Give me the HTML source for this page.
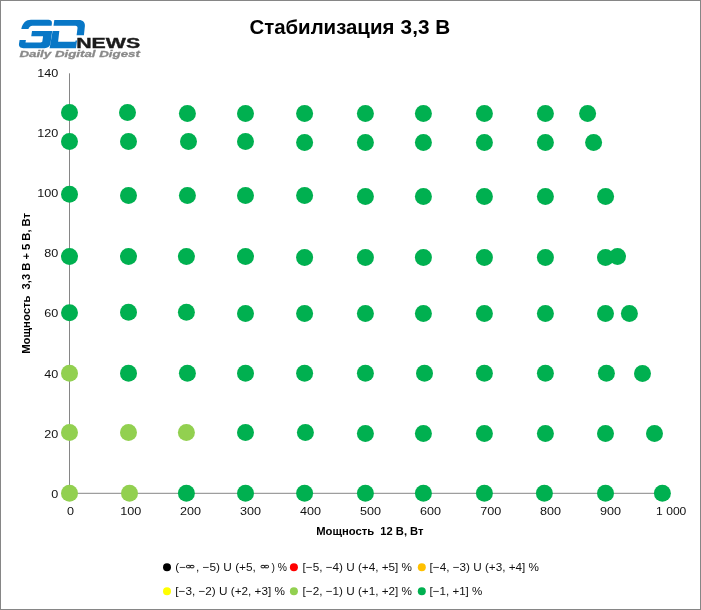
<!DOCTYPE html>
<html><head><meta charset="utf-8"><style>
html,body{margin:0;padding:0;background:#fff;}
svg{display:block;will-change:transform;font-family:"Liberation Sans",sans-serif;}
</style></head><body>
<svg width="701" height="610" viewBox="0 0 701 610">
<rect x="0.5" y="0.5" width="700" height="609" fill="#fff" stroke="#868686" stroke-width="1"/>

<g fill="#0877C6">
<path d="M21.3,28.9 C22.6,23 26,19.8 31,19.8 L48.3,19.8 C50.9,19.8 52.2,21.2 51.9,23.4 L51.6,25.7 L32.4,25.7 C30.4,25.7 29,27 28.4,28.9 Z"/>
<path d="M32,31.1 L52.2,31.1 L50.5,43.6 C50.0,46.6 47.6,48.2 44.6,48.2 L23.5,48.2 C20.3,48.2 18.6,46.5 19,43.8 L19.6,40 L25.9,40 L25.5,42.5 L40.6,42.5 C41.8,42.5 42.3,42.1 42.4,41.1 L43.1,36.25 L31.25,36.25 Z"/>
<path d="M54.3,19.9 L78.6,19.9 C83.2,19.9 85.3,22.5 84.9,26 L83.9,35.2 L76.6,35.2 L77.5,28.3 C77.7,26.8 77,25.8 75.4,25.8 L53.5,25.8 Z"/>
<path d="M52.6,31.1 L59.3,31.1 L58.1,41.8 L75.4,41.8 L75.6,40.5 L77.0,40.5 L76.0,48.2 L49.6,48.2 Z"/>
</g>
<text x="76.2" y="47.8" font-size="13.8" font-weight="bold" fill="#1b1b1b" stroke="#1b1b1b" stroke-width="0.35" textLength="64" lengthAdjust="spacingAndGlyphs">NEWS</text>
<text x="19.4" y="57.4" font-size="9.6" font-weight="bold" font-style="italic" fill="#8a8a8a" stroke="#8a8a8a" stroke-width="0.3" textLength="120.5" lengthAdjust="spacingAndGlyphs">Daily Digital Digest</text>

<g font-size="20.4" font-weight="bold" fill="#000">
<text x="249.4" y="33.5" textLength="145" lengthAdjust="spacingAndGlyphs">Стабилизация</text>
<text x="400.6" y="33.5" textLength="49.6" lengthAdjust="spacingAndGlyphs">3,3 В</text>
</g>
<line x1="69.5" y1="73.3" x2="69.5" y2="493.3" stroke="#868686" stroke-width="1"/>
<line x1="69.5" y1="493.3" x2="670" y2="493.3" stroke="#868686" stroke-width="1"/>
<g font-size="11.5" fill="#111">
<text x="58.3" y="498.0" text-anchor="end" textLength="7.0" lengthAdjust="spacingAndGlyphs">0</text>
<text x="58.3" y="438.0" text-anchor="end" textLength="14.0" lengthAdjust="spacingAndGlyphs">20</text>
<text x="58.3" y="378.0" text-anchor="end" textLength="14.0" lengthAdjust="spacingAndGlyphs">40</text>
<text x="58.3" y="317.0" text-anchor="end" textLength="14.0" lengthAdjust="spacingAndGlyphs">60</text>
<text x="58.3" y="257.0" text-anchor="end" textLength="14.0" lengthAdjust="spacingAndGlyphs">80</text>
<text x="58.3" y="197.0" text-anchor="end" textLength="21.0" lengthAdjust="spacingAndGlyphs">100</text>
<text x="58.3" y="137.0" text-anchor="end" textLength="21.0" lengthAdjust="spacingAndGlyphs">120</text>
<text x="58.3" y="77.0" text-anchor="end" textLength="21.0" lengthAdjust="spacingAndGlyphs">140</text>
<text x="70.5" y="514.9" text-anchor="middle" textLength="7.0" lengthAdjust="spacingAndGlyphs">0</text>
<text x="130.7" y="514.9" text-anchor="middle" textLength="21.0" lengthAdjust="spacingAndGlyphs">100</text>
<text x="190.5" y="514.9" text-anchor="middle" textLength="21.0" lengthAdjust="spacingAndGlyphs">200</text>
<text x="250.6" y="514.9" text-anchor="middle" textLength="21.0" lengthAdjust="spacingAndGlyphs">300</text>
<text x="310.5" y="514.9" text-anchor="middle" textLength="21.0" lengthAdjust="spacingAndGlyphs">400</text>
<text x="370.6" y="514.9" text-anchor="middle" textLength="21.0" lengthAdjust="spacingAndGlyphs">500</text>
<text x="430.6" y="514.9" text-anchor="middle" textLength="21.0" lengthAdjust="spacingAndGlyphs">600</text>
<text x="490.7" y="514.9" text-anchor="middle" textLength="21.0" lengthAdjust="spacingAndGlyphs">700</text>
<text x="550.6" y="514.9" text-anchor="middle" textLength="21.0" lengthAdjust="spacingAndGlyphs">800</text>
<text x="610.4" y="514.9" text-anchor="middle" textLength="21.0" lengthAdjust="spacingAndGlyphs">900</text>
<text x="671.2" y="514.9" text-anchor="middle" textLength="30.3" lengthAdjust="spacingAndGlyphs">1 000</text>
</g>
<g font-size="11" font-weight="bold" fill="#000">
<text x="316.2" y="535" textLength="58" lengthAdjust="spacingAndGlyphs">Мощность</text>
<text x="380.3" y="535" textLength="43.2" lengthAdjust="spacingAndGlyphs">12 В, Вт</text>
</g>
<g transform="translate(30,0) rotate(-90)" font-size="11" font-weight="bold" fill="#000">
<text x="-353.8" y="0" textLength="58.2" lengthAdjust="spacingAndGlyphs">Мощность</text>
<text x="-289.4" y="0" textLength="76.4" lengthAdjust="spacingAndGlyphs">3,3 В + 5 В, Вт</text>
</g>
<circle cx="69.5" cy="112.5" r="8.5" fill="#00B050"/>
<circle cx="127.5" cy="112.5" r="8.5" fill="#00B050"/>
<circle cx="187.4" cy="113.6" r="8.5" fill="#00B050"/>
<circle cx="245.5" cy="113.6" r="8.5" fill="#00B050"/>
<circle cx="304.6" cy="113.6" r="8.5" fill="#00B050"/>
<circle cx="365.4" cy="113.6" r="8.5" fill="#00B050"/>
<circle cx="423.4" cy="113.6" r="8.5" fill="#00B050"/>
<circle cx="484.4" cy="113.6" r="8.5" fill="#00B050"/>
<circle cx="545.4" cy="113.6" r="8.5" fill="#00B050"/>
<circle cx="587.6" cy="113.6" r="8.5" fill="#00B050"/>
<circle cx="69.5" cy="141.4" r="8.5" fill="#00B050"/>
<circle cx="128.5" cy="141.4" r="8.5" fill="#00B050"/>
<circle cx="188.5" cy="141.4" r="8.5" fill="#00B050"/>
<circle cx="245.5" cy="141.4" r="8.5" fill="#00B050"/>
<circle cx="304.6" cy="142.6" r="8.5" fill="#00B050"/>
<circle cx="365.4" cy="142.6" r="8.5" fill="#00B050"/>
<circle cx="423.4" cy="142.6" r="8.5" fill="#00B050"/>
<circle cx="484.4" cy="142.6" r="8.5" fill="#00B050"/>
<circle cx="545.4" cy="142.6" r="8.5" fill="#00B050"/>
<circle cx="593.6" cy="142.6" r="8.5" fill="#00B050"/>
<circle cx="69.5" cy="194.3" r="8.5" fill="#00B050"/>
<circle cx="128.5" cy="195.4" r="8.5" fill="#00B050"/>
<circle cx="187.4" cy="195.4" r="8.5" fill="#00B050"/>
<circle cx="245.5" cy="195.4" r="8.5" fill="#00B050"/>
<circle cx="304.6" cy="195.4" r="8.5" fill="#00B050"/>
<circle cx="365.4" cy="196.4" r="8.5" fill="#00B050"/>
<circle cx="423.4" cy="196.4" r="8.5" fill="#00B050"/>
<circle cx="484.4" cy="196.4" r="8.5" fill="#00B050"/>
<circle cx="545.4" cy="196.4" r="8.5" fill="#00B050"/>
<circle cx="605.6" cy="196.4" r="8.5" fill="#00B050"/>
<circle cx="69.5" cy="256.5" r="8.5" fill="#00B050"/>
<circle cx="128.5" cy="256.5" r="8.5" fill="#00B050"/>
<circle cx="186.4" cy="256.5" r="8.5" fill="#00B050"/>
<circle cx="245.5" cy="256.5" r="8.5" fill="#00B050"/>
<circle cx="304.6" cy="257.6" r="8.5" fill="#00B050"/>
<circle cx="365.4" cy="257.5" r="8.5" fill="#00B050"/>
<circle cx="423.4" cy="257.5" r="8.5" fill="#00B050"/>
<circle cx="484.4" cy="257.5" r="8.5" fill="#00B050"/>
<circle cx="545.4" cy="257.5" r="8.5" fill="#00B050"/>
<circle cx="605.5" cy="257.5" r="8.5" fill="#00B050"/>
<circle cx="617.5" cy="256.5" r="8.5" fill="#00B050"/>
<circle cx="69.5" cy="312.8" r="8.5" fill="#00B050"/>
<circle cx="128.5" cy="312.3" r="8.5" fill="#00B050"/>
<circle cx="186.4" cy="312.3" r="8.5" fill="#00B050"/>
<circle cx="245.5" cy="313.4" r="8.5" fill="#00B050"/>
<circle cx="304.6" cy="313.4" r="8.5" fill="#00B050"/>
<circle cx="365.4" cy="313.4" r="8.5" fill="#00B050"/>
<circle cx="423.4" cy="313.4" r="8.5" fill="#00B050"/>
<circle cx="484.4" cy="313.4" r="8.5" fill="#00B050"/>
<circle cx="545.4" cy="313.4" r="8.5" fill="#00B050"/>
<circle cx="605.5" cy="313.4" r="8.5" fill="#00B050"/>
<circle cx="629.4" cy="313.5" r="8.5" fill="#00B050"/>
<circle cx="69.5" cy="373.3" r="8.5" fill="#92D050"/>
<circle cx="128.5" cy="373.3" r="8.5" fill="#00B050"/>
<circle cx="187.4" cy="373.3" r="8.5" fill="#00B050"/>
<circle cx="245.5" cy="373.3" r="8.5" fill="#00B050"/>
<circle cx="304.6" cy="373.3" r="8.5" fill="#00B050"/>
<circle cx="365.4" cy="373.3" r="8.5" fill="#00B050"/>
<circle cx="424.5" cy="373.3" r="8.5" fill="#00B050"/>
<circle cx="484.4" cy="373.3" r="8.5" fill="#00B050"/>
<circle cx="545.4" cy="373.3" r="8.5" fill="#00B050"/>
<circle cx="606.4" cy="373.3" r="8.5" fill="#00B050"/>
<circle cx="642.5" cy="373.5" r="8.5" fill="#00B050"/>
<circle cx="69.5" cy="432.6" r="8.5" fill="#92D050"/>
<circle cx="128.5" cy="432.6" r="8.5" fill="#92D050"/>
<circle cx="186.4" cy="432.6" r="8.5" fill="#92D050"/>
<circle cx="245.5" cy="432.4" r="8.5" fill="#00B050"/>
<circle cx="305.4" cy="432.4" r="8.5" fill="#00B050"/>
<circle cx="365.4" cy="433.4" r="8.5" fill="#00B050"/>
<circle cx="423.4" cy="433.4" r="8.5" fill="#00B050"/>
<circle cx="484.4" cy="433.4" r="8.5" fill="#00B050"/>
<circle cx="545.4" cy="433.4" r="8.5" fill="#00B050"/>
<circle cx="605.5" cy="433.4" r="8.5" fill="#00B050"/>
<circle cx="654.5" cy="433.5" r="8.5" fill="#00B050"/>
<circle cx="69.5" cy="493.3" r="8.5" fill="#92D050"/>
<circle cx="129.5" cy="493.3" r="8.5" fill="#92D050"/>
<circle cx="186.4" cy="493.3" r="8.5" fill="#00B050"/>
<circle cx="245.5" cy="493.3" r="8.5" fill="#00B050"/>
<circle cx="304.6" cy="493.3" r="8.5" fill="#00B050"/>
<circle cx="365.4" cy="493.3" r="8.5" fill="#00B050"/>
<circle cx="423.4" cy="493.3" r="8.5" fill="#00B050"/>
<circle cx="484.4" cy="493.3" r="8.5" fill="#00B050"/>
<circle cx="544.4" cy="493.3" r="8.5" fill="#00B050"/>
<circle cx="605.5" cy="493.3" r="8.5" fill="#00B050"/>
<circle cx="662.4" cy="493.3" r="8.5" fill="#00B050"/>
<g font-size="11.6" fill="#111">
<circle cx="167" cy="567.2" r="4" fill="#000000"/><text x="175.3" y="571.1" textLength="10.6" lengthAdjust="spacingAndGlyphs">(−</text><rect x="186.5" y="565.4" width="3.7" height="2.4" rx="0.8" fill="none" stroke="#111" stroke-width="1"/><rect x="190.2" y="565.4" width="3.7" height="2.4" rx="0.8" fill="none" stroke="#111" stroke-width="1"/><text x="196.0" y="571.1" textLength="59.9" lengthAdjust="spacingAndGlyphs">, −5) U (+5,</text><rect x="261.1" y="565.4" width="3.7" height="2.4" rx="0.8" fill="none" stroke="#111" stroke-width="1"/><rect x="264.8" y="565.4" width="3.7" height="2.4" rx="0.8" fill="none" stroke="#111" stroke-width="1"/><text x="271.5" y="571.1" textLength="15.5" lengthAdjust="spacingAndGlyphs">) %</text><circle cx="293.9" cy="567.2" r="4" fill="#FF0000"/><text x="302.6" y="571.1" textLength="109.39999999999998" lengthAdjust="spacingAndGlyphs">[−5, −4) U (+4, +5] %</text>
<circle cx="421.8" cy="567.2" r="4" fill="#FFC000"/><text x="429.6" y="571.1" textLength="109.39999999999998" lengthAdjust="spacingAndGlyphs">[−4, −3) U (+3, +4] %</text>
<circle cx="167" cy="591.2" r="4" fill="#FFFF00"/><text x="175.3" y="595.1" textLength="109.69999999999999" lengthAdjust="spacingAndGlyphs">[−3, −2) U (+2, +3] %</text>
<circle cx="293.9" cy="591.2" r="4" fill="#92D050"/><text x="302.6" y="595.1" textLength="109.39999999999998" lengthAdjust="spacingAndGlyphs">[−2, −1) U (+1, +2] %</text>
<circle cx="421.8" cy="591.2" r="4" fill="#00B050"/><text x="429.6" y="595.1" textLength="52.69999999999999" lengthAdjust="spacingAndGlyphs">[−1, +1] %</text>
</g>
</svg>
</body></html>
